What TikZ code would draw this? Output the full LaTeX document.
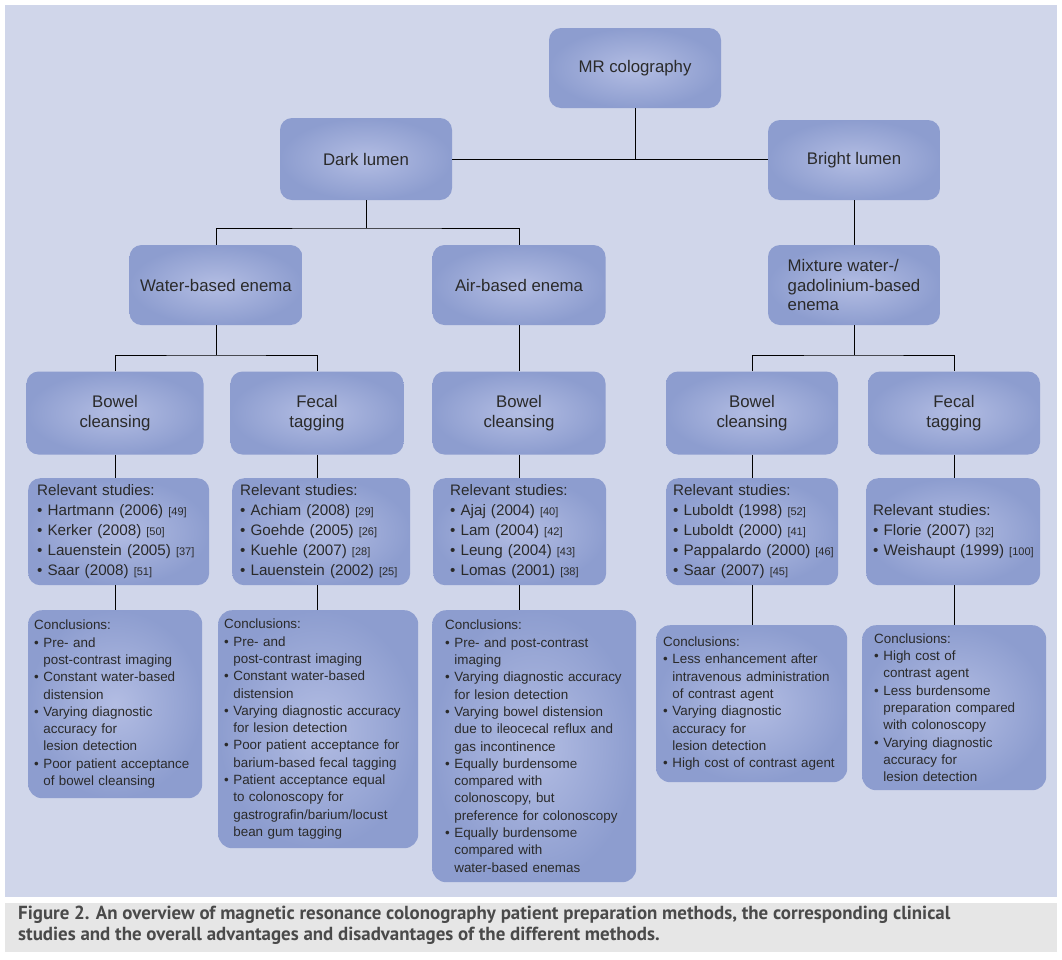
\documentclass[tikz,border=0pt]{standalone}
\usepackage{fontspec}
\setmainfont{Liberation Sans}
\newfontfamily\capfont{PT Sans}
\definecolor{panel}{HTML}{D0D6EA}
\definecolor{boxout}{HTML}{8D9DCF}
\definecolor{boxin}{HTML}{B3BDE3}
\definecolor{txt}{HTML}{2A2A2A}
\definecolor{capbg}{HTML}{E6E6E6}
\newcommand{\bi}{\textbullet\ }
\newcommand{\ind}{\hphantom{\textbullet\ }}
\newcommand{\rf}[1]{{\fontsize{11}{12}\selectfont #1}}
\begin{document}
\begin{tikzpicture}[x=1pt,y=-1pt,
  box/.style={rounded corners=12pt,inner color=boxin,outer color=boxout,draw=none,
    text=txt,font=\fontsize{16.8}{19.5}\selectfont,align=center},
  stud/.style={rounded corners=12pt,inner color=boxin,outer color=boxout,draw=none,
    text=txt,font=\fontsize{15.2}{20}\selectfont,align=left,anchor=north west,inner sep=0pt},
  conc/.style={rounded corners=14pt,inner color=boxin,outer color=boxout,draw=none,
    text=txt,font=\fontsize{13.4}{17.3}\selectfont,align=left,anchor=north west,inner sep=0pt},
  ln/.style={draw=black,line width=0.8pt}]
\useasboundingbox (0,0) rectangle (1062,959);
\fill[white] (0,0) rectangle (1062,959);
\fill[panel] (5,5) rectangle (1057,897);
\fill[capbg] (5,903) rectangle (1057,952);
\node[anchor=north west,text=txt!85!white,font=\capfont\bfseries\fontsize{18.9}{21}\selectfont,align=left,inner sep=0pt] (cap) at (18,906)
 {Figure 2. An overview of magnetic resonance colonography patient preparation methods, the corresponding clinical\\studies and the overall advantages and disadvantages of the different methods.};
% level boxes
\node[box,minimum width=172pt,minimum height=80pt] (mr) at (635,68) {MR colography};
\node[box,minimum width=172pt,minimum height=82pt] (dark) at (366,159) {Dark lumen};
\node[box,minimum width=172pt,minimum height=80pt] (bright) at (854,160) {Bright lumen};
\node[box,minimum width=173pt,minimum height=80pt] (water) at (216,285) {Water-based enema};
\node[box,minimum width=173pt,minimum height=80pt] (air) at (519,285) {Air-based enema};
\node[box,minimum width=172pt,minimum height=80pt,align=left] (mix) at (854,285) {Mixture water-/\\gadolinium-based\\enema};
\node[box,minimum width=177pt,minimum height=83pt] (b1) at (115,413) {Bowel\\cleansing};
\node[box,minimum width=173pt,minimum height=83pt] (f1) at (317,413) {Fecal\\tagging};
\node[box,minimum width=173pt,minimum height=83pt] (b2) at (519,413) {Bowel\\cleansing};
\node[box,minimum width=172pt,minimum height=83pt] (b3) at (752,413) {Bowel\\cleansing};
\node[box,minimum width=172pt,minimum height=83pt] (f3) at (954,413) {Fecal\\tagging};
% studies
\node[stud,minimum width=181pt,minimum height=107pt,text width=181pt] (s1) at (28,478)
 {\hspace*{9pt}Relevant studies:\\\hspace*{9pt}\bi Hartmann (2006) \rf{[49]}\\\hspace*{9pt}\bi Kerker (2008) \rf{[50]}\\\hspace*{9pt}\bi Lauenstein (2005) \rf{[37]}\\\hspace*{9pt}\bi Saar (2008) \rf{[51]}};
\node[stud,minimum width=178pt,minimum height=107pt,text width=178pt] (s2) at (232,478)
 {\hspace*{8pt}Relevant studies:\\\hspace*{8pt}\bi Achiam (2008) \rf{[29]}\\\hspace*{8pt}\bi Goehde (2005) \rf{[26]}\\\hspace*{8pt}\bi Kuehle (2007) \rf{[28]}\\\hspace*{8pt}\bi Lauenstein (2002) \rf{[25]}};
\node[stud,minimum width=173pt,minimum height=107pt,text width=173pt] (s3) at (433,478)
 {\hspace*{17pt}Relevant studies:\\\hspace*{17pt}\bi Ajaj (2004) \rf{[40]}\\\hspace*{17pt}\bi Lam (2004) \rf{[42]}\\\hspace*{17pt}\bi Leung (2004) \rf{[43]}\\\hspace*{17pt}\bi Lomas (2001) \rf{[38]}};
\node[stud,minimum width=172pt,minimum height=107pt,text width=172pt] (s4) at (666,478)
 {\hspace*{7pt}Relevant studies:\\\hspace*{7pt}\bi Luboldt (1998) \rf{[52]}\\\hspace*{7pt}\bi Luboldt (2000) \rf{[41]}\\\hspace*{7pt}\bi Pappalardo (2000) \rf{[46]}\\\hspace*{7pt}\bi Saar (2007) \rf{[45]}};
\node[stud,minimum width=174pt,minimum height=107pt,text width=174pt] (s5) at (866,478)
 {\hspace*{7pt}Relevant studies:\\\hspace*{7pt}\bi Florie (2007) \rf{[32]}\\\hspace*{7pt}\bi Weishaupt (1999) \rf{[100]}};
% conclusions
\node[conc,minimum width=174pt,minimum height=188pt,text width=174pt] (c1) at (28,610)
 {\hspace*{6pt}Conclusions:\\\hspace*{6pt}\bi Pre- and\\\hspace*{6pt}\ind post-contrast imaging\\\hspace*{6pt}\bi Constant water-based\\\hspace*{6pt}\ind distension\\\hspace*{6pt}\bi Varying diagnostic\\\hspace*{6pt}\ind accuracy for\\\hspace*{6pt}\ind lesion detection\\\hspace*{6pt}\bi Poor patient acceptance\\\hspace*{6pt}\ind of bowel cleansing};
\node[conc,minimum width=200pt,minimum height=238pt,text width=200pt] (c2) at (218,610)
 {\hspace*{6pt}Conclusions:\\\hspace*{6pt}\bi Pre- and\\\hspace*{6pt}\ind post-contrast imaging\\\hspace*{6pt}\bi Constant water-based\\\hspace*{6pt}\ind distension\\\hspace*{6pt}\bi Varying diagnostic accuracy\\\hspace*{6pt}\ind for lesion detection\\\hspace*{6pt}\bi Poor patient acceptance for\\\hspace*{6pt}\ind barium-based fecal tagging\\\hspace*{6pt}\bi Patient acceptance equal\\\hspace*{6pt}\ind to colonoscopy for\\\hspace*{6pt}\ind gastrografin/barium/locust\\\hspace*{6pt}\ind bean gum tagging};
\node[conc,minimum width=204pt,minimum height=272pt,text width=204pt] (c3) at (432,610)
 {\hspace*{13pt}Conclusions:\\\hspace*{13pt}\bi Pre- and post-contrast\\\hspace*{13pt}\ind imaging\\\hspace*{13pt}\bi Varying diagnostic accuracy\\\hspace*{13pt}\ind for lesion detection\\\hspace*{13pt}\bi Varying bowel distension\\\hspace*{13pt}\ind due to ileocecal reflux and\\\hspace*{13pt}\ind gas incontinence\\\hspace*{13pt}\bi Equally burdensome\\\hspace*{13pt}\ind compared with\\\hspace*{13pt}\ind colonoscopy, but\\\hspace*{13pt}\ind preference for colonoscopy\\\hspace*{13pt}\bi Equally burdensome\\\hspace*{13pt}\ind compared with\\\hspace*{13pt}\ind water-based enemas};
\node[conc,minimum width=191pt,minimum height=157pt,text width=191pt] (c4) at (656,625)
 {\hspace*{7pt}Conclusions:\\\hspace*{7pt}\bi Less enhancement after\\\hspace*{7pt}\ind intravenous administration\\\hspace*{7pt}\ind of contrast agent\\\hspace*{7pt}\bi Varying diagnostic\\\hspace*{7pt}\ind accuracy for\\\hspace*{7pt}\ind lesion detection\\\hspace*{7pt}\bi High cost of contrast agent};
\node[conc,minimum width=184pt,minimum height=165pt,text width=184pt] (c5) at (862,625)
 {\hspace*{12pt}Conclusions:\\\hspace*{12pt}\bi High cost of\\\hspace*{12pt}\ind contrast agent\\\hspace*{12pt}\bi Less burdensome\\\hspace*{12pt}\ind preparation compared\\\hspace*{12pt}\ind with colonoscopy\\\hspace*{12pt}\bi Varying diagnostic\\\hspace*{12pt}\ind accuracy for\\\hspace*{12pt}\ind lesion detection};
% connectors
\draw[ln] (mr.south) -- (mr.south |- dark.east);
\draw[ln] (dark.east) -- (bright.west |- dark.east);
\draw[ln] (dark.south) -- (366,228);
\draw[ln] (water.north) |- (366,228) -| (air.north);
\draw[ln] (bright.south) -- (mix.north);
\draw[ln] (air.south) -- (b2.north);
\draw[ln] (water.south) -- (216,355);
\draw[ln] (b1.north) |- (216,355) -| (f1.north);
\draw[ln] (mix.south) -- (854,355);
\draw[ln] (b3.north) |- (854,355) -| (f3.north);
\draw[ln] (b1.south) -- (b1.south |- s1.north);
\draw[ln] (f1.south) -- (f1.south |- s2.north);
\draw[ln] (b2.south) -- (b2.south |- s3.north);
\draw[ln] (b3.south) -- (b3.south |- s4.north);
\draw[ln] (f3.south) -- (f3.south |- s5.north);
\draw[ln] (b1.south |- s1.south) -- (b1.south |- c1.north);
\draw[ln] (f1.south |- s2.south) -- (f1.south |- c2.north);
\draw[ln] (b2.south |- s3.south) -- (b2.south |- c3.north);
\draw[ln] (b3.south |- s4.south) -- (b3.south |- c4.north);
\draw[ln] (f3.south |- s5.south) -- (f3.south |- c5.north);
\end{tikzpicture}
\end{document}
